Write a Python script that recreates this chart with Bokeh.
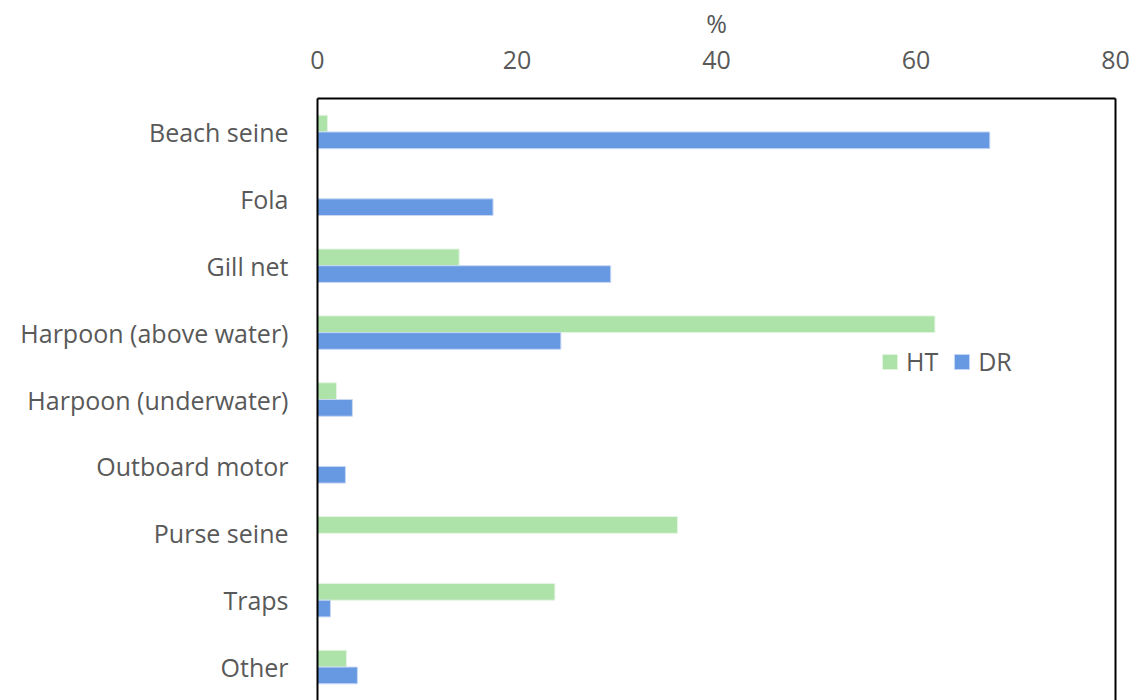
from bokeh.plotting import figure
from bokeh.models import FactorRange, Range1d, LinearAxis, ColumnDataSource, Legend, LegendItem, FixedTicker
from bokeh.transform import dodge
from bokeh.embed import file_html
from bokeh.resources import INLINE

categories = ["Beach seine", "Fola", "Gill net", "Harpoon (above water)", "Harpoon (underwater)",
              "Outboard motor", "Purse seine", "Traps", "Other"]
ht_values = [1.0, 0.0, 14.2, 61.9, 1.9, 0.0, 36.1, 23.8, 2.9]
dr_values = [67.4, 17.6, 29.4, 24.4, 3.5, 2.8, 0.0, 1.3, 4.0]
x_ticks = [0, 20, 40, 60, 80]

FONT = "Open Sans"
GRAY = "#595959"
GREEN = "#ADE2A8"
BLUE = "#6699E1"
FS = "25px"

src = ColumnDataSource(dict(cat=categories, ht=ht_values, dr=dr_values))

p = figure(width=1141, height=700, output_backend="svg", toolbar_location=None,
           y_range=FactorRange(factors=list(reversed(categories)), range_padding=0),
           x_range=Range1d(0, 80), x_axis_location="above",
           min_border_left=317, min_border_right=26, min_border_top=98, min_border_bottom=0)
p.outline_line_color = None
p.grid.visible = False
p.background_fill_color = "white"

r_ht = p.hbar(y=dodge("cat", 0.125, range=p.y_range), right="ht", left=0, height=0.25,
              source=src, fill_color=GREEN, line_color="#E4F5E2", line_width=1)
r_dr = p.hbar(y=dodge("cat", -0.125, range=p.y_range), right="dr", left=0, height=0.25,
              source=src, fill_color=BLUE, line_color="#C8D8F5", line_width=1)

xa = p.xaxis[0]
xa.ticker = FixedTicker(ticks=x_ticks)
xa.axis_label = "%"
xa.axis_label_text_font = FONT
xa.axis_label_text_font_size = FS
xa.axis_label_text_font_style = "normal"
xa.axis_label_text_color = GRAY
xa.axis_label_standoff = 8
xa.major_label_text_font = FONT
xa.major_label_text_font_size = FS
xa.major_label_text_color = GRAY
xa.major_label_standoff = 24
xa.major_tick_line_color = None
xa.minor_tick_line_color = None
xa.axis_line_color = "black"
xa.axis_line_width = 2

ya = p.yaxis[0]
ya.major_label_text_font = FONT
ya.major_label_text_font_size = FS
ya.major_label_text_color = GRAY
ya.major_label_standoff = 23
ya.major_tick_line_color = None
ya.minor_tick_line_color = None
ya.axis_line_color = "black"
ya.axis_line_width = 2

ra = LinearAxis(ticker=FixedTicker(ticks=[]), major_label_text_font_size="0px",
                major_tick_line_color=None, minor_tick_line_color=None,
                axis_line_color="black", axis_line_width=2)
p.add_layout(ra, "right")

legend = Legend(items=[LegendItem(label="HT", renderers=[r_ht]), LegendItem(label="DR", renderers=[r_dr])],
                orientation="horizontal", location=(563, 322), border_line_color=None,
                background_fill_alpha=0, label_text_font=FONT, label_text_font_size=FS,
                label_text_color=GRAY, glyph_width=19, glyph_height=19, spacing=14,
                label_standoff=7, padding=0, margin=0)
p.add_layout(legend, "center")

open("out.html", "w").write(file_html(p, INLINE))
